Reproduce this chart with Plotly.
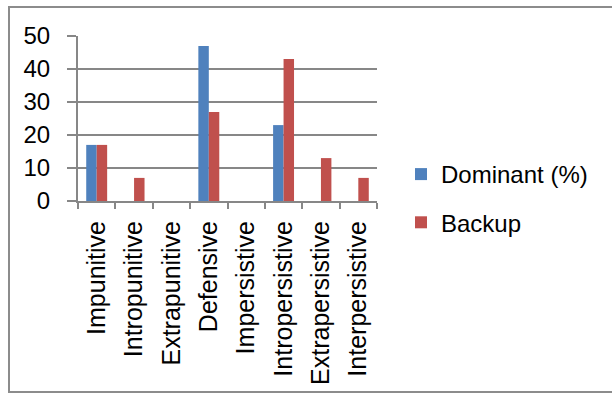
import plotly.graph_objects as go

categories = ["Impunitive", "Intropunitive", "Extrapunitive", "Defensive",
              "Impersistive", "Intropersistive", "Extrapersistive", "Interpersistive"]
dominant = [17, 0, 0, 47, 0, 23, 0, 0]
backup = [17, 7, 0, 27, 0, 43, 13, 7]
y_ticks = [0, 10, 20, 30, 40, 50]

W, H = 612, 396
L, R, T, B = 78, 235, 36, 195
pw, ph = W - L - R, H - T - B

FONT = "Liberation Sans"
GRID = "#878787"

fig = go.Figure()
fig.add_trace(go.Bar(x=categories, y=dominant, name="Dominant (%)",
                     marker=dict(color="#4F81BD", line=dict(width=0)),
                     legendgroup="a"))
fig.add_trace(go.Bar(x=categories, y=backup, name="Backup",
                     marker=dict(color="#C0504D", line=dict(width=0)),
                     legendgroup="b"))

# outer chart frame
def px_x(v):
    return (v - L) / pw

def px_y(v):
    return (H - B - v) / ph

fig.add_shape(type="rect", xref="paper", yref="paper",
              x0=px_x(9), x1=px_x(640), y0=px_y(392), y1=px_y(7),
              line=dict(color="#8c8c8c", width=2), fillcolor="rgba(0,0,0,0)",
              layer="below")

fig.update_layout(
    width=W, height=H,
    margin=dict(l=L, r=R, t=T, b=B, autoexpand=False),
    paper_bgcolor="white", plot_bgcolor="white",
    barmode="group", bargap=0.44, bargroupgap=0,
    font=dict(family=FONT, size=24, color="black"),
    showlegend=True,
    legend=dict(x=px_x(401), y=px_y(152), xanchor="left", yanchor="top",
                traceorder="grouped", tracegroupgap=14,
                font=dict(family=FONT, size=24, color="black"),
                bgcolor="rgba(0,0,0,0)", itemwidth=30),
    xaxis=dict(type="category", tickson="boundaries", ticks="outside",
               ticklen=6, tickcolor=GRID, tickwidth=2,
               showline=True, linecolor=GRID, linewidth=2,
               showgrid=False, tickangle=-90,
               tickfont=dict(family=FONT, size=25, color="black"),
               ticklabelstandoff=8),
    yaxis=dict(range=[0, 50], tickvals=y_ticks, ticks="outside",
               ticklen=9, tickcolor=GRID, tickwidth=2,
               showline=True, linecolor=GRID, linewidth=2,
               showgrid=True, gridcolor=GRID, gridwidth=2,
               zeroline=False,
               tickfont=dict(family=FONT, size=24, color="black"),
               ticklabelstandoff=12),
)

fig.write_html("out.html")
